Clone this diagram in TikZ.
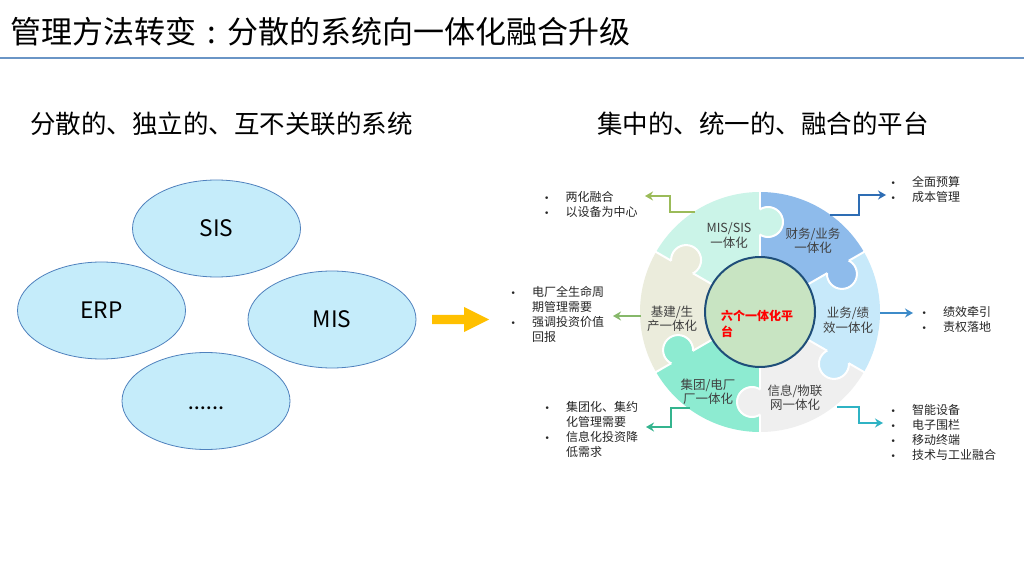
\documentclass[tikz,border=0pt]{standalone}
\usepackage{fontspec}
\setmainfont{Noto Sans CJK SC}
\newfontfamily\carl{Carlito}
\newfontfamily\dejav{DejaVu Sans}
\usetikzlibrary{arrows.meta,calc,shapes.geometric}
\definecolor{ellfill}{HTML}{C5ECFA}
\definecolor{ellline}{HTML}{4F81BD}
\definecolor{rulec}{HTML}{6A95C6}
\definecolor{arrowy}{HTML}{FFC000}
\definecolor{cfin}{HTML}{8EBBEB}
\definecolor{cmis}{HTML}{CBF4E8}
\definecolor{cjj}{HTML}{EBECDC}
\definecolor{cjt}{HTML}{8DEBD1}
\definecolor{cxx}{HTML}{EFEFEF}
\definecolor{cyw}{HTML}{C7E9FA}
\definecolor{chub}{HTML}{C8E4C2}
\definecolor{chubline}{HTML}{1F4E79}
\definecolor{labgray}{HTML}{404040}
\definecolor{listgray}{HTML}{262626}
\definecolor{aolive}{HTML}{9BBB59}
\definecolor{agreen}{HTML}{86B86A}
\definecolor{ateal}{HTML}{34B48E}
\definecolor{ablue}{HTML}{2E6DB4}
\definecolor{abluetwo}{HTML}{3D8BC9}
\definecolor{acyan}{HTML}{2FB3C4}
\newcommand{\mybul}{\makebox[21.5pt][l]{\dejav\fontsize{9}{9}\selectfont •}}
\begin{document}
\begin{tikzpicture}[x=1pt,y=1pt,
  ell/.style={ellipse, draw=ellline, fill=ellfill, line width=0.8pt, minimum width=168pt, minimum height=97pt, inner sep=0pt, font=\fontsize{22.7}{26}\selectfont},
  seglabel/.style={align=center, text=labgray, font=\fontsize{12.5}{14.5}\selectfont, inner sep=0pt},
  blist/.style={anchor=base west, inner sep=0pt, text=listgray, font=\fontsize{12}{15}\selectfont},
  callout/.style={line width=1.8pt, -{Stealth[length=8pt,width=9pt]}},
]
\useasboundingbox (0,0) rectangle (1024,576);
\fill[white] (0,0) rectangle (1024,576);

% title and rule
\node[anchor=west, inner sep=0pt, font=\fontsize{31}{36}\selectfont] (title) at (10,544) {管理方法转变\makebox[31pt][c]{:}分散的系统向一体化融合升级};
\draw[rulec, line width=1.5pt] (0,518) -- (1024,518);

% subtitles
\node[anchor=west, inner sep=0pt, font=\fontsize{25.5}{30}\selectfont] (subl) at (30,452) {分散的、独立的、互不关联的系统};
\node[anchor=west, inner sep=0pt, font=\fontsize{25.5}{30}\selectfont] (subr) at (597,452) {集中的、统一的、融合的平台};

% ellipses
\node[ell] (sis) at (216.5,347.5) {SIS};
\node[ell] (erp) at (101.5,265.5) {ERP};
\node[ell] (mis) at (332,256.5) {MIS};
\node[ell] (more) at (206,175) {\smash{\raisebox{-8.5pt}{\carl\fontsize{24}{28}\selectfont ......}}};

% yellow arrow
\fill[arrowy] (432,252) -- (464,252) -- (464,244) -- (489,256.5) -- (464,269) -- (464,261) -- (432,261) -- cycle;

% ring
\coordinate (C) at (760,264);
\foreach \a/\c in {30/cfin, 90/cmis, 150/cjj, 210/cjt, 270/cxx, 330/cyw}
  \fill[\c] (C) -- ++(\a:120pt) arc[start angle=\a, end angle=\a+60, radius=120pt] -- cycle;
\foreach \a in {30,90,150,210,270,330}
  \draw[white, line width=2pt] (C) ++(\a:54pt) -- ++(\a:68pt);
\foreach \a/\c in {90/cmis, 30/cfin, 330/cyw, 270/cxx, 210/cjt, 150/cjj} {
  \fill[\c] (C) ++(\a:90pt) ++({\a-90}:8pt) circle[radius=15pt];
  \begin{scope}
    \clip (C) -- ($(C)+(\a:140pt)$) -- ($(C)+({\a-60}:140pt)$) -- cycle;
    \draw[white, line width=2pt] (C) ++(\a:90pt) ++({\a-90}:8pt) circle[radius=15pt];
  \end{scope}
}
\node[circle, fill=chub, draw=chubline, line width=2pt, minimum size=110pt, inner sep=0pt] (hub) at (C) {};
\node[anchor=west, align=left, inner sep=0pt, text=red, font=\bfseries\fontsize{12}{16}\selectfont] (hubtext) at (721,252) {六个一体化平\\台};

% segment labels
\node[seglabel] (lmis) at (729,340.5) {MIS/SIS\\一体化};
\node[seglabel] (lfin) at (813,335.5) {财务/业务\\一体化};
\node[seglabel] (lyw) at (848,255.5) {业务/绩\\效一体化};
\node[seglabel] (lxx) at (795,178.5) {信息/物联\\网一体化};
\node[seglabel] (ljt) at (708,184.5) {集团/电厂\\厂一体化};
\node[seglabel] (ljj) at (672,257) {基建/生\\产一体化};

% lists
\node[blist] (L1) at (544,374.5) {\begin{tabular}[t]{@{}l@{}l@{}}\mybul & 两化融合\\ \mybul & 以设备为中心\end{tabular}};
\node[blist] (L2) at (510.5,279.5) {\begin{tabular}[t]{@{}l@{}l@{}}\mybul & 电厂全生命周\\ & 期管理需要\\ \mybul & 强调投资价值\\ & 回报\end{tabular}};
\node[blist] (L3) at (544.5,164.5) {\begin{tabular}[t]{@{}l@{}l@{}}\mybul & 集团化、集约\\ & 化管理需要\\ \mybul & 信息化投资降\\ & 低需求\end{tabular}};
\node[blist] (R1) at (890.5,389.5) {\begin{tabular}[t]{@{}l@{}l@{}}\mybul & 全面预算\\ \mybul & 成本管理\end{tabular}};
\node[blist] (R2) at (921.5,259.5) {\begin{tabular}[t]{@{}l@{}l@{}}\mybul & 绩效牵引\\ \mybul & 责权落地\end{tabular}};
\node[blist] (R3) at (890.5,161.5) {\begin{tabular}[t]{@{}l@{}l@{}}\mybul & 智能设备\\ \mybul & 电子围栏\\ \mybul & 移动终端\\ \mybul & 技术与工业融合\end{tabular}};

% callout connectors
\coordinate (s1) at (695,364); \coordinate (k1) at (670,380); \coordinate (t1) at (645,380);
\draw[callout, aolive] (s1) -| (k1) -- (t1);
\coordinate (s2) at (641,260); \coordinate (t2) at (613,260);
\draw[callout, agreen] (s2) -- (t2);
\coordinate (s3) at (690,168); \coordinate (k3) at (671,149); \coordinate (t3) at (646,149);
\draw[callout, ateal] (s3) -| (k3) -- (t3);
\coordinate (s4) at (830,361); \coordinate (k4) at (859,381); \coordinate (t4) at (886,381);
\draw[callout, ablue] (s4) -| (k4) -- (t4);
\coordinate (s5) at (880,263); \coordinate (t5) at (913,263);
\draw[callout, abluetwo] (s5) -- (t5);
\coordinate (s6) at (837,169); \coordinate (k6) at (859,153); \coordinate (t6) at (883,153);
\draw[callout, acyan] (s6) -| (k6) -- (t6);
\end{tikzpicture}
\end{document}
